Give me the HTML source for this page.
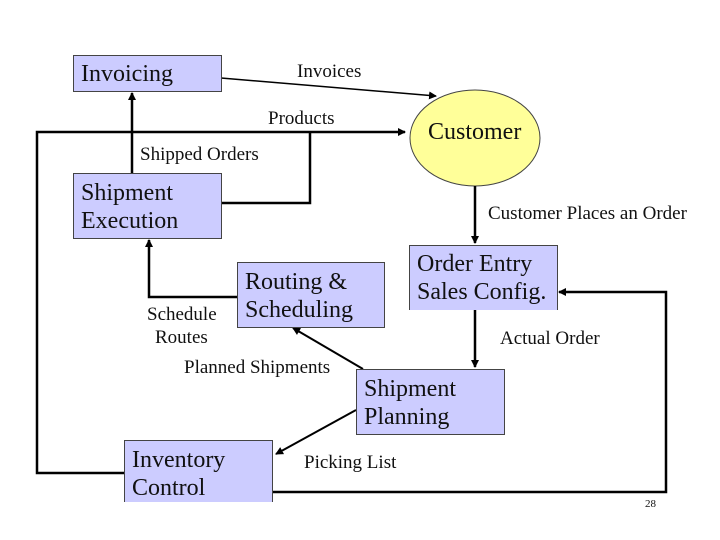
<!DOCTYPE html>
<html><head><style>
body{margin:0;width:720px;height:540px;background:#fff;overflow:hidden;position:relative;font-family:"Liberation Serif",serif}
.b{position:absolute;background:#ccccff;border:1px solid #444;box-sizing:border-box;font-size:24px;line-height:28px;padding:5px 0 0 7px;color:#111;white-space:nowrap}
.l{position:absolute;font-size:19px;color:#111;white-space:nowrap}
svg{position:absolute;left:0;top:0}
</style></head><body>
<svg width="720" height="540">
<defs><marker id="a" markerWidth="8" markerHeight="8" refX="7" refY="4" orient="auto" markerUnits="userSpaceOnUse"><path d="M0,0 L8,4 L0,8z" fill="#000"/></marker></defs>
<ellipse cx="475" cy="138" rx="65" ry="48" fill="#ffff99" stroke="#444"/>
<g stroke="#000" stroke-width="2.5" fill="none">
<line x1="221" y1="78" x2="436" y2="96" stroke-width="1.5" marker-end="url(#a)"/>
<polyline points="124,473 37,473 37,132 405,132" marker-end="url(#a)"/>
<polyline points="221,203 310,203 310,132"/>
<line x1="132" y1="173" x2="132" y2="93" marker-end="url(#a)"/>
<polyline points="237,297 149,297 149,240" marker-end="url(#a)"/>
<line x1="475" y1="186" x2="475" y2="243" marker-end="url(#a)"/>
<line x1="475" y1="310" x2="475" y2="367" marker-end="url(#a)"/>
<line x1="363" y1="369" x2="293" y2="328" stroke-width="2" marker-end="url(#a)"/>
<line x1="356" y1="410" x2="276" y2="454" stroke-width="2" marker-end="url(#a)"/>
<polyline points="270,492 666,492 666,292 559,292" marker-end="url(#a)"/>
</g>
</svg>
<div class="b" style="left:73px;top:55px;width:149px;height:37px;padding-top:4px">Invoicing</div>
<div class="b" style="left:73px;top:173px;width:149px;height:66px">Shipment<br>Execution</div>
<div class="b" style="left:237px;top:262px;width:148px;height:66px">Routing &amp;<br>Scheduling</div>
<div class="b" style="left:409px;top:245px;width:149px;height:65px;border-bottom:none;padding-top:4px">Order Entry<br>Sales Config.</div>
<div class="b" style="left:356px;top:369px;width:149px;height:66px">Shipment<br>Planning</div>
<div class="b" style="left:124px;top:440px;width:149px;height:62px;border-bottom:none;padding-top:5px">Inventory<br>Control</div>
<div class="l" style="left:428px;top:119px;font-size:24px">Customer</div>
<div class="l" style="left:297px;top:61px">Invoices</div>
<div class="l" style="left:268px;top:108px">Products</div>
<div class="l" style="left:140px;top:144px">Shipped Orders</div>
<div class="l" style="left:488px;top:203px">Customer Places an Order</div>
<div class="l" style="left:147px;top:304px">Schedule</div>
<div class="l" style="left:155px;top:327px">Routes</div>
<div class="l" style="left:500px;top:328px">Actual Order</div>
<div class="l" style="left:184px;top:357px">Planned Shipments</div>
<div class="l" style="left:304px;top:452px">Picking List</div>
<div class="l" style="left:645px;top:498px;font-size:11px">28</div>
</body></html>
